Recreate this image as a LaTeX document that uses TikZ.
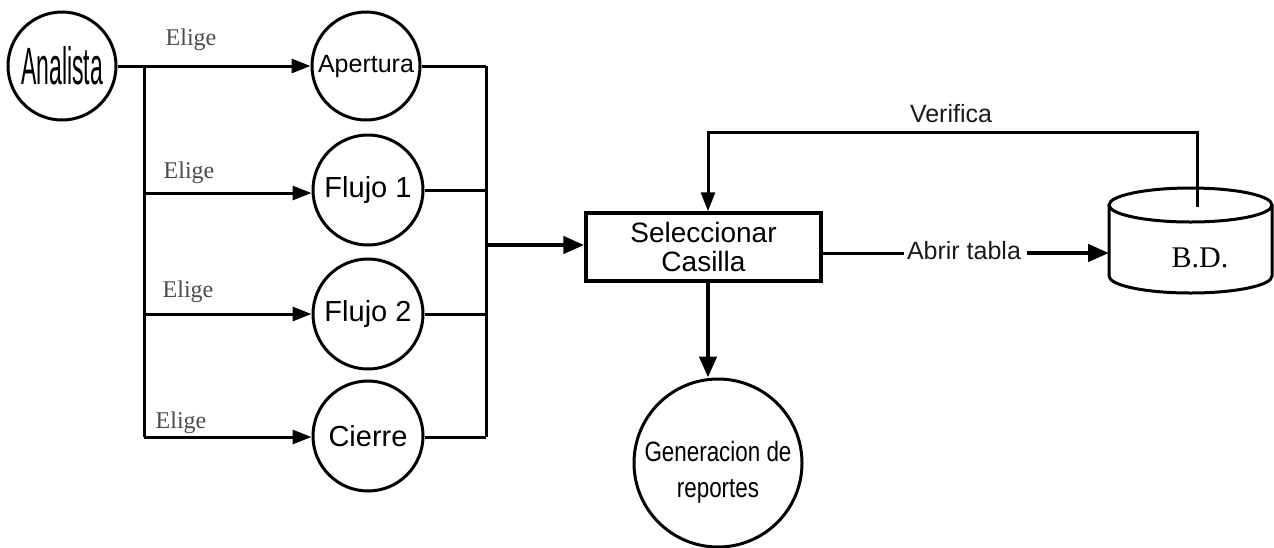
\documentclass[tikz,border=0pt]{standalone}
\usepackage{fontspec}
\setmainfont{Liberation Sans}
\newfontfamily\serifx{Liberation Serif}
\usetikzlibrary{arrows.meta}
\begin{document}
\begin{tikzpicture}[x=1pt,y=-1pt,
  proc/.style={circle,draw,line width=3pt,inner sep=0pt,minimum size=#1},
  ln/.style={line width=3pt},
  arr/.style={line width=3pt,-{Triangle[length=19pt,width=14pt]}},
  tarr/.style={line width=4.5pt,-{Triangle[length=21pt,width=17pt]}},
  elige/.style={font=\serifx\fontsize{24}{26}\selectfont,text=black!70},
  lbl/.style={font=\fontsize{25}{27}\selectfont,text=black!90}]
\useasboundingbox (0,0) rectangle (1274,547);
% nodes
\node[proc=108pt] (an) at (62,66) {\scalebox{0.46}[1.05]{\fontsize{50}{52}\selectfont Analista}};
\node[proc=108pt] (ap) at (366,66) {\fontsize{25}{27}\selectfont Apertura};
\node[proc=110pt] (f1) at (368,190) {\fontsize{29}{31}\selectfont Flujo 1};
\node[proc=110pt] (f2) at (368,314) {\fontsize{29}{31}\selectfont Flujo 2};
\node[proc=110pt] (ci) at (368,436) {\fontsize{29}{31}\selectfont Cierre};
\node[draw,line width=3.5pt,minimum width=235pt,minimum height=68pt,inner sep=0pt,align=center,
      font=\fontsize{28}{28.5}\selectfont] (sel) at (703.5,247) {Seleccionar\\Casilla};
\node[proc=168pt,font=\fontsize{28}{38}\selectfont] (gen) at (718,463)
  {\raisebox{-15pt}[0pt][0pt]{\begin{tabular}{@{}c@{}}\scalebox{0.8}[1]{Generacion de}\\[-2pt]\scalebox{0.8}[1]{reportes}\end{tabular}}};
% cylinder B.D.
\draw[line width=3pt,fill=white] (1109,205) -- (1109,276) arc[start angle=180,end angle=360,x radius=81.5pt,y radius=17pt] -- (1272,205);
\draw[line width=3pt] (1190.5,205) ellipse [x radius=81.5pt,y radius=17pt];
\node[font=\serifx\fontsize{30}{32}\selectfont] (bd) at (1200,258) {B.D.};
\coordinate (bdl) at (1109,253);
\coordinate (bdt) at (1197,207);
% left bus
\coordinate (j0) at (144,66);
\coordinate (j1) at (144,193);
\coordinate (j2) at (144,314);
\coordinate (j3) at (144,437);
\draw[ln] (an.east) -- (j0);
\draw[ln] (j0) -- (j3);
\draw[arr] (j0) -- (ap.west);
\draw[arr] (j1) -- (f1.west |- j1);
\draw[arr] (j2) -- (f2.west);
\draw[arr] (j3) -- (ci.west |- j3);
\node[elige] (e0) at (191,40) {Elige};
\node[elige] (e1) at (189,173) {Elige};
\node[elige] (e2) at (188,292) {Elige};
\node[elige] (e3) at (181,423) {Elige};
% right bus
\coordinate (k0) at (486,66);
\coordinate (k1) at (486,190);
\coordinate (k2) at (486,314);
\coordinate (k3) at (486,437);
\coordinate (km) at (486,245);
\draw[ln] (ap.east) -- (k0);
\draw[ln] (f1.east) -- (k1);
\draw[ln] (f2.east) -- (k2);
\draw[ln] (ci.east |- k3) -- (k3);
\draw[ln] (k0) -- (k3);
\draw[tarr] (km) -- (sel.west |- km);
% verifica loop
\coordinate (v1) at (708,132);
\coordinate (v2) at (1197,132);
\draw[arr] (bdt) -- (v2) -- (v1) -- (sel.north -| v1);
\node[lbl] (ver) at (951,114) {Verifica};
% abrir tabla
\node[lbl] (ab) at (964,251) {Abrir tabla};
\draw[ln] (sel.east |- ab) ++(0,2) coordinate (s1) -- (ab.west |- s1);
\draw[tarr] (ab.east |- bdl) ++(2,0) -- (bdl);
% generacion
\draw[tarr] (sel.south -| gen.north) ++(-10,0) coordinate (g1) -- (g1 |- gen.north);
\end{tikzpicture}
\end{document}
